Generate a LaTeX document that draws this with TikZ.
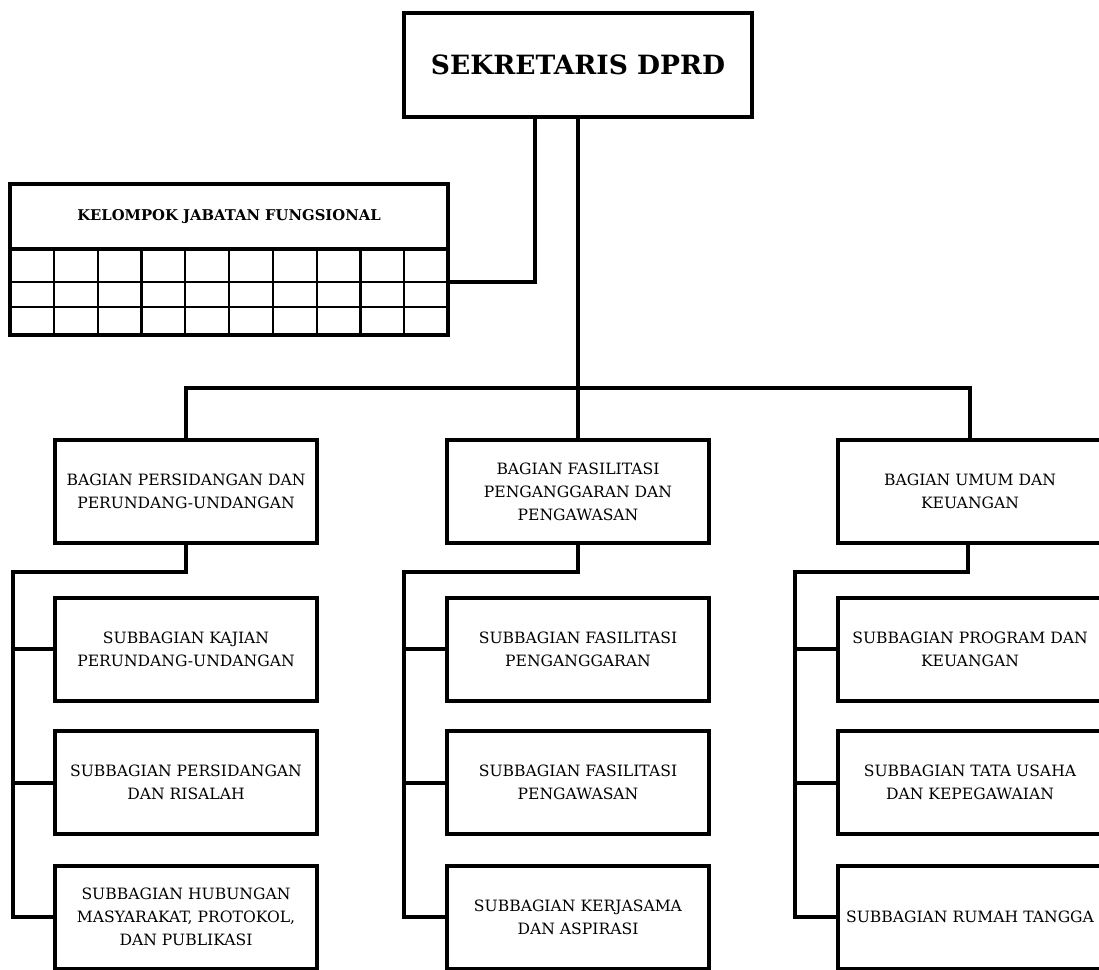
\documentclass[tikz,border=0pt]{standalone}
\usepackage{fontspec}
\setmainfont{DejaVu Serif}
\usepackage{tikz}
\usetikzlibrary{calc}

\tikzset{
	unit/.style={draw, line width=4pt, minimum width=262pt, minimum height=103pt, inner sep=0pt, align=center, font=\fontsize{15.6}{23}\selectfont},
	link/.style={line width=4pt},
	cell/.style={line width=2.2pt}
}

\begin{document}
\begin{tikzpicture}[x=1pt,y=-1pt]
			\useasboundingbox (0,0) rectangle (1099,969);
			
			\node[unit, minimum width=348pt, minimum height=104pt, font=\bfseries\fontsize{26.5}{30}\selectfont] (sek) at (578,65) {SEKRETARIS DPRD};
			
			% kelompok jabatan fungsional
			\node[draw, line width=4pt, minimum width=438pt, minimum height=65pt, inner sep=0pt, outer sep=0pt, font=\bfseries\fontsize{14.8}{17}\selectfont] (jf) at (229,216.5) {KELOMPOK JABATAN FUNGSIONAL};
			\draw[cell] (10,282) -- (448,282);
			\draw[cell] (10,307) -- (448,307);
			\foreach \i in {1,...,9} \draw[cell] ($(jf.south west)+(43.8*\i,0)$) -- ++(0,86);
			\draw[line width=4pt] (jf.south west) rectangle (448,335);
			\coordinate (jfport) at (448,282);
			
			\node[unit] (bag1) at (186,491.5) {BAGIAN PERSIDANGAN DAN\\PERUNDANG-UNDANGAN};
			\node[unit] (bag2) at (578,491.5) {BAGIAN FASILITASI\\PENGANGGARAN DAN\\PENGAWASAN};
			\node[unit, minimum width=264pt] (bag3) at (970,491.5) {BAGIAN UMUM DAN\\KEUANGAN};
			
			\node[unit] (sub11) at (186,649) {SUBBAGIAN KAJIAN\\PERUNDANG-UNDANGAN};
			\node[unit] (sub12) at (186,782.5) {SUBBAGIAN PERSIDANGAN\\DAN RISALAH};
			\node[unit] (sub13) at (186,917) {SUBBAGIAN HUBUNGAN\\MASYARAKAT, PROTOKOL,\\DAN PUBLIKASI};
			
			\node[unit] (sub21) at (578,649) {SUBBAGIAN FASILITASI\\PENGANGGARAN};
			\node[unit] (sub22) at (578,782.5) {SUBBAGIAN FASILITASI\\PENGAWASAN};
			\node[unit] (sub23) at (578,917) {SUBBAGIAN KERJASAMA\\DAN ASPIRASI};
			
			\node[unit, minimum width=264pt] (sub31) at (970,649) {SUBBAGIAN PROGRAM DAN\\KEUANGAN};
			\node[unit, minimum width=264pt] (sub32) at (970,782.5) {SUBBAGIAN TATA USAHA\\DAN KEPEGAWAIAN};
			\node[unit, minimum width=264pt] (sub33) at (970,917) {SUBBAGIAN RUMAH TANGGA};
			
			% garis komando
			\coordinate (bus) at (578,388);
			\draw[link] (sek.south) -- (bag2.north);
			\draw[link] ([xshift=-43pt]sek.south) |- (jfport);
			\draw[link] (bag1.north) -- (bag1.north |- bus) -- (bag3.north |- bus) -- (bag3.north);
			
			\coordinate (s1) at (13,572);
			\coordinate (s2) at (404,572);
			\coordinate (s3) at (795,572);
			
			\draw[link] (bag1.south) |- (s1) -- (s1 |- sub13.west) -- (sub13.west);
			\draw[link] (s1 |- sub11.west) -- (sub11.west);
			\draw[link] (s1 |- sub12.west) -- (sub12.west);
			
			\draw[link] (bag2.south) |- (s2) -- (s2 |- sub23.west) -- (sub23.west);
			\draw[link] (s2 |- sub21.west) -- (sub21.west);
			\draw[link] (s2 |- sub22.west) -- (sub22.west);
			
			\draw[link] ([xshift=-2pt]bag3.south) |- (s3) -- (s3 |- sub33.west) -- (sub33.west);
			\draw[link] (s3 |- sub31.west) -- (sub31.west);
			\draw[link] (s3 |- sub32.west) -- (sub32.west);
		\end{tikzpicture}
\end{document}
